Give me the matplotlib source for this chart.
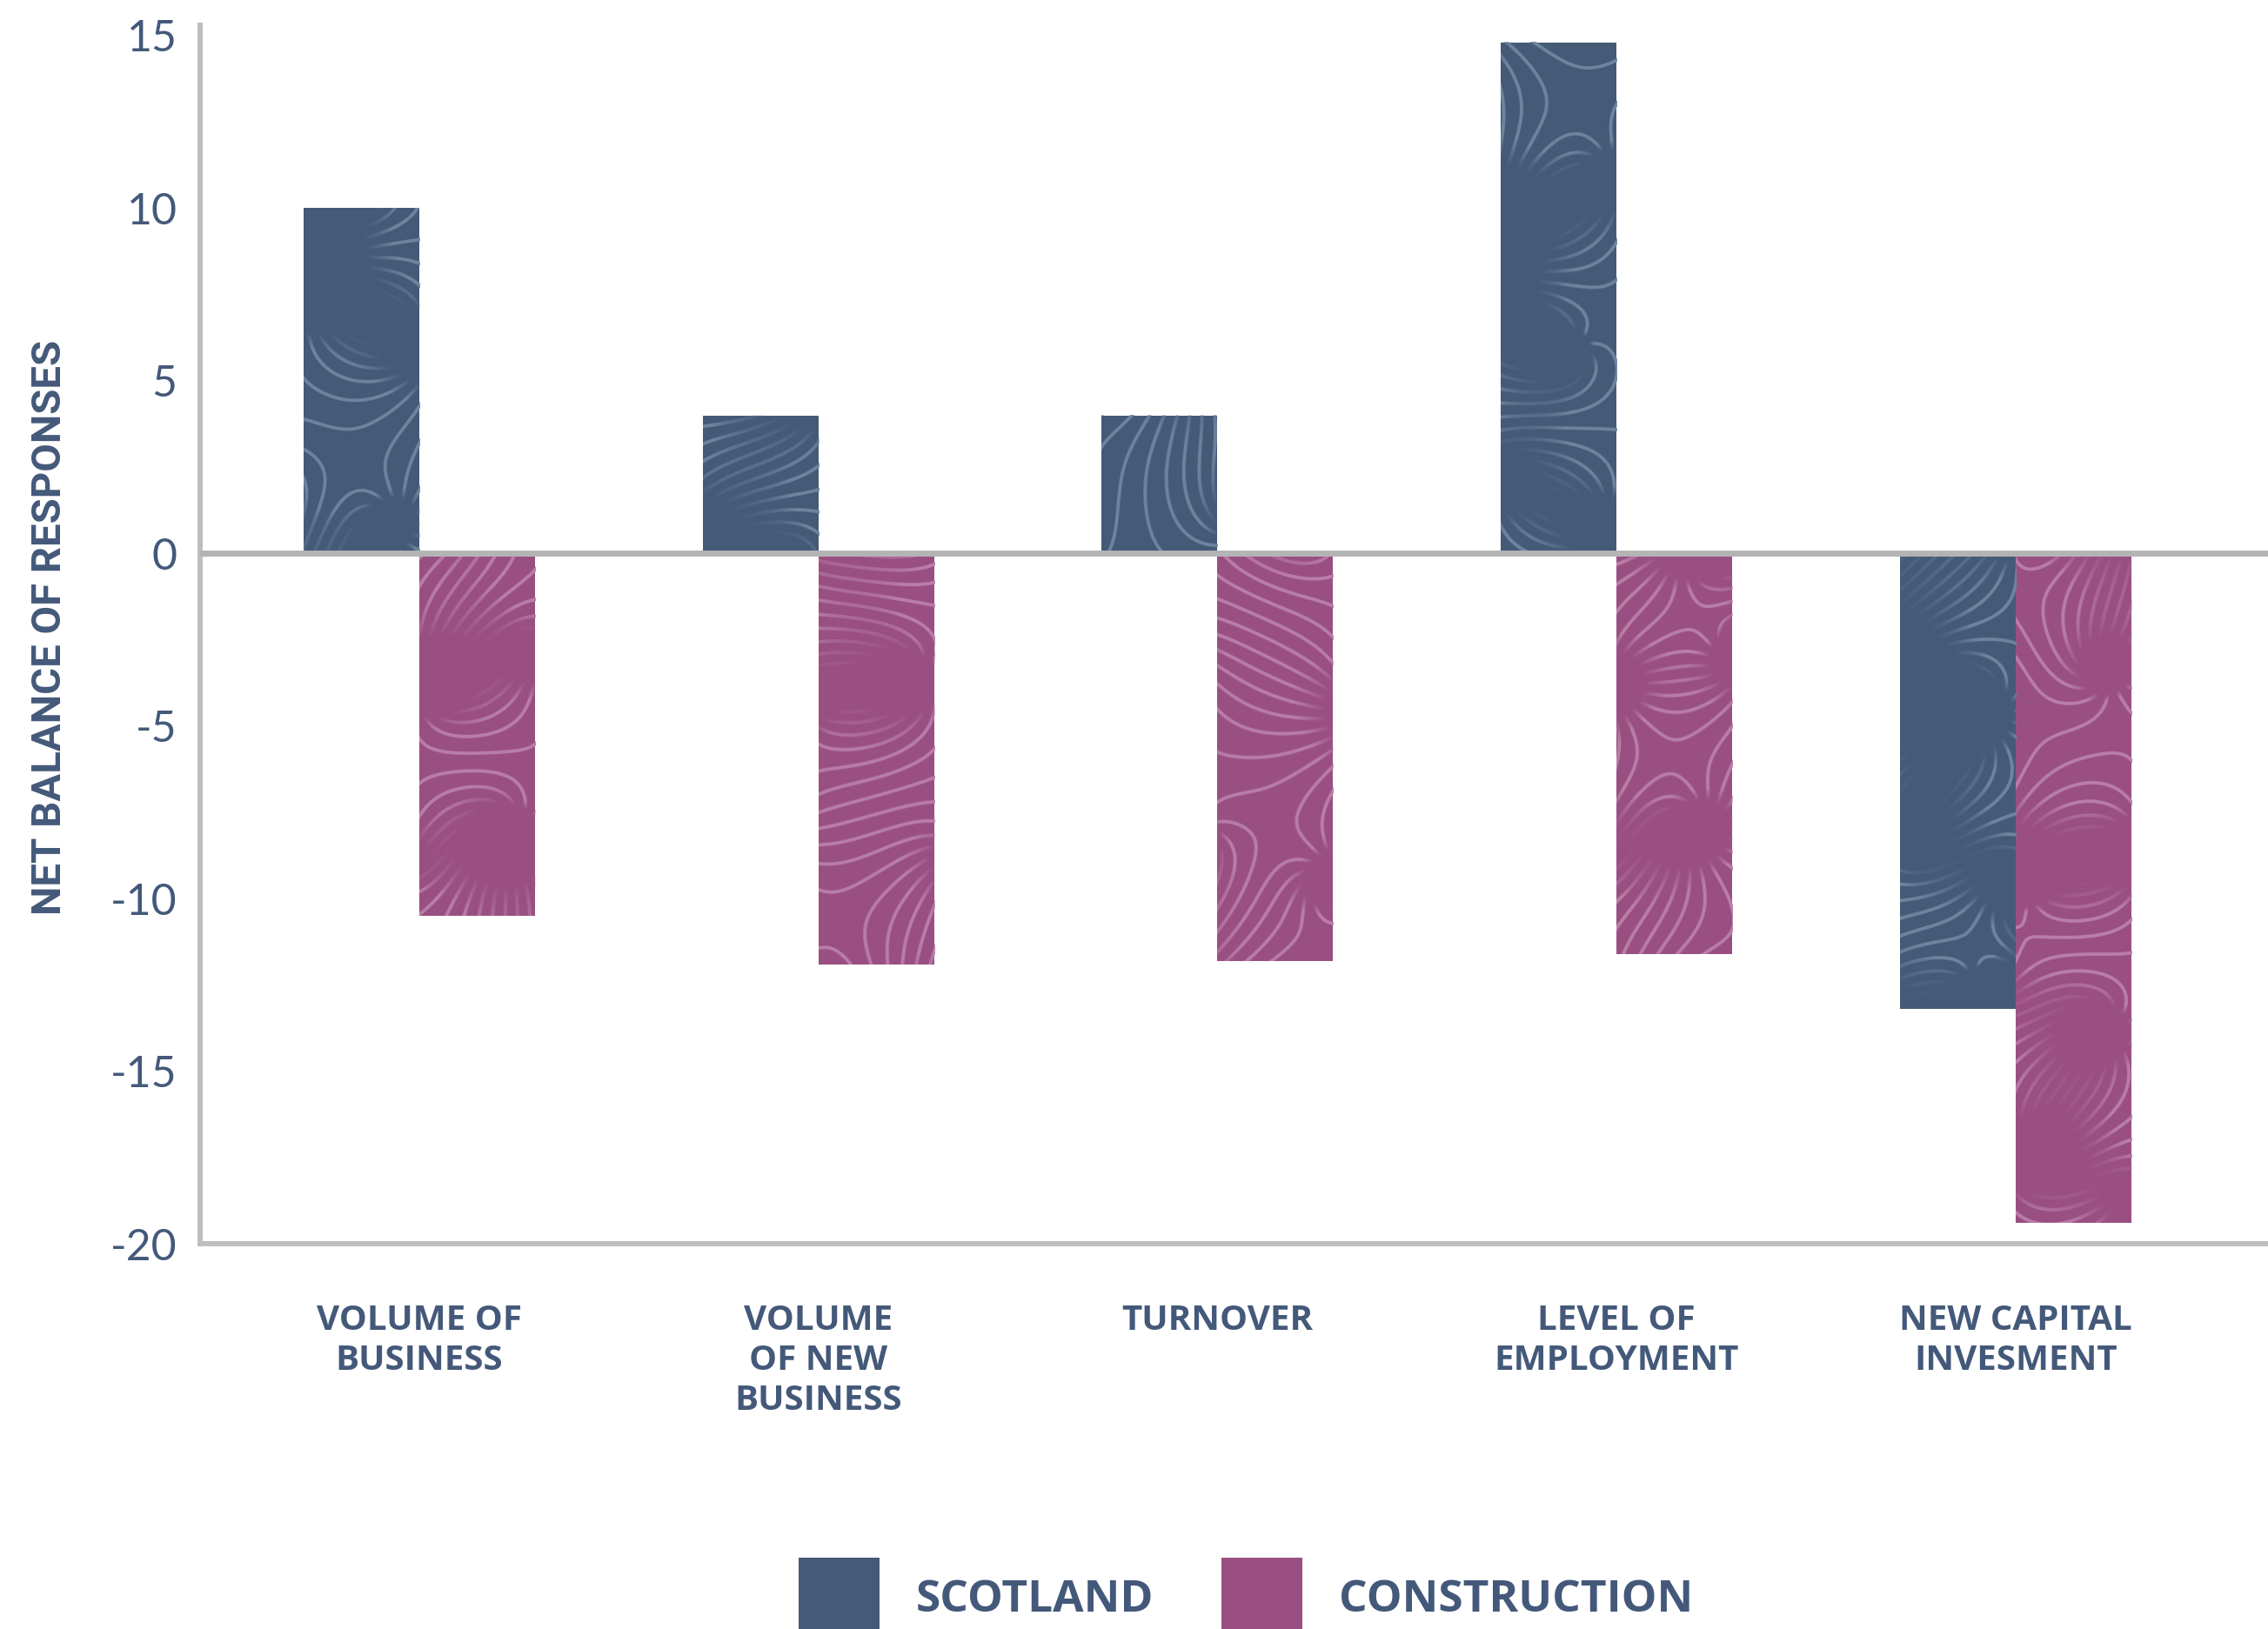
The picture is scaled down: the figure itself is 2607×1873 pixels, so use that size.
import numpy as np
import matplotlib
matplotlib.use('Agg')
import matplotlib.pyplot as plt
from matplotlib.patches import Patch
from matplotlib.transforms import ScaledTranslation

# Net balance of responses by indicator
categories = ['VOLUME OF\nBUSINESS', 'VOLUME\nOF NEW\nBUSINESS', 'TURNOVER',
              'LEVEL OF\nEMPLOYMENT', 'NEW CAPITAL\nINVESMENT']
scotland = [10.0, 4.0, 4.0, 14.8, -13.2]
construction = [-10.5, -11.9, -11.8, -11.6, -19.4]
series_names = ['SCOTLAND', 'CONSTRUCTION']
yticks = [15, 10, 5, 0, -5, -10, -15, -20]

navy = '#445a77'
plum = '#9a4f82'
navy_line = '#6f87a1'
plum_line = '#ba80ab'
text_col = '#44597a'
axis_col = '#bdbec0'


def swirl_texture(w, h, seed):
    """Alpha mask of ornamental swirl lines for a w x h pixel block."""
    yy, xx = np.mgrid[0:h, 0:w] + 0.5
    f = np.zeros((h, w))
    gx = np.zeros((h, w))
    gy = np.zeros((h, w))
    k = 0
    for cy in np.arange(-40, h + 140, 190):
        for cx in np.arange(-40, w + 140, 170):
            k += 1
            a = (seed * 0.618 + k * 0.754877) % 1
            b = (seed * 0.311 + k * 0.569840) % 1
            px = cx + 90 * (a - 0.5)
            py = cy + 90 * (b - 0.5)
            n = [8, -10, 12, -7, 9, -11, 7][(k + seed) % 7]
            m = 16 * (b - 0.5)
            dx = xx - px
            dy = yy - py
            r2 = dx * dx + dy * dy + 4.0
            f += n * np.arctan2(dy, dx) + 0.5 * m * np.log(r2)
            gx += (-n * dy + m * dx) / r2
            gy += (n * dx + m * dy) / r2
    grad = np.hypot(gx, gy) + 1e-9
    dist = np.abs(np.sin(f)) / grad
    line = np.clip(2.4 - dist, 0, 1)
    spacing = np.pi / grad
    line *= np.clip((spacing - 11) / 6, 0, 1)
    return line


fig = plt.figure(figsize=(26.07, 18.73), dpi=100)
ax = fig.add_axes([0.0882, 0.2365, 0.9118, 0.748])

x = np.arange(len(categories))
width = 0.29
bars_s = ax.bar(x - width / 2, scotland, width, color=navy, zorder=2)
bars_c = ax.bar(x + width / 2, construction, width, color=plum, zorder=2)

ax.set_xlim(-0.549, 4.632)
ax.set_ylim(-20, 15.3)

# ornamental pattern over each bar
fig.canvas.draw()
seed = 0
for bars, lc in ((bars_s, navy_line), (bars_c, plum_line)):
    rgb = np.array(matplotlib.colors.to_rgb(lc))
    for b in bars:
        seed += 1
        x0, y0 = b.get_x(), b.get_y()
        x1, y1 = x0 + b.get_width(), y0 + b.get_height()
        p0 = ax.transData.transform((x0, min(y0, y1)))
        p1 = ax.transData.transform((x1, max(y0, y1)))
        w_px = max(int(round(p1[0] - p0[0])), 2)
        h_px = max(int(round(p1[1] - p0[1])), 2)
        mask = swirl_texture(w_px, h_px, seed)
        img = np.zeros((h_px, w_px, 4))
        img[..., :3] = rgb
        img[..., 3] = mask * 0.95
        ax.imshow(img, extent=(x0, x1, min(y0, y1), max(y0, y1)),
                  aspect='auto', origin='upper', interpolation='antialiased',
                  zorder=3)

ax.axhline(0, color='#b4b4b4', lw=5, zorder=5)

for side in ('top', 'right'):
    ax.spines[side].set_visible(False)
for side in ('left', 'bottom'):
    ax.spines[side].set_color(axis_col)
    ax.spines[side].set_linewidth(4.3)

ax.set_yticks(yticks)
ax.set_yticklabels([str(v) for v in yticks], fontsize=36, color=text_col,
                   family='Lato', fontweight='normal')
lift = ScaledTranslation(0, 6 / 72, fig.dpi_scale_trans)
for lbl in ax.get_yticklabels():
    lbl.set_transform(lbl.get_transform() + lift)

ax.set_xticks(x)
ax.set_xticklabels(categories, fontsize=29, color=text_col, family='Open Sans',
                   fontweight='bold', linespacing=1.22, va='top')
ax.tick_params(axis='both', length=0)
ax.tick_params(axis='y', pad=19)
ax.tick_params(axis='x', pad=50)

fig.text(0.0219, 0.615, 'NET BALANCE OF RESPONSES', rotation=90,
         ha='center', va='center', fontsize=34, color=text_col,
         family='Roboto', fontweight='bold')

handles = [Patch(facecolor=navy), Patch(facecolor=plum)]
fig.legend(handles, series_names, loc='center', bbox_to_anchor=(0.5493, 0.0192),
           ncol=2, frameon=False,
           prop={'family': 'Open Sans', 'weight': 'bold', 'size': 37},
           labelcolor=text_col, handlelength=1.81, handleheight=2.35,
           handletextpad=0.82, columnspacing=1.5, borderpad=0)

fig.savefig('out.png', dpi=100)
